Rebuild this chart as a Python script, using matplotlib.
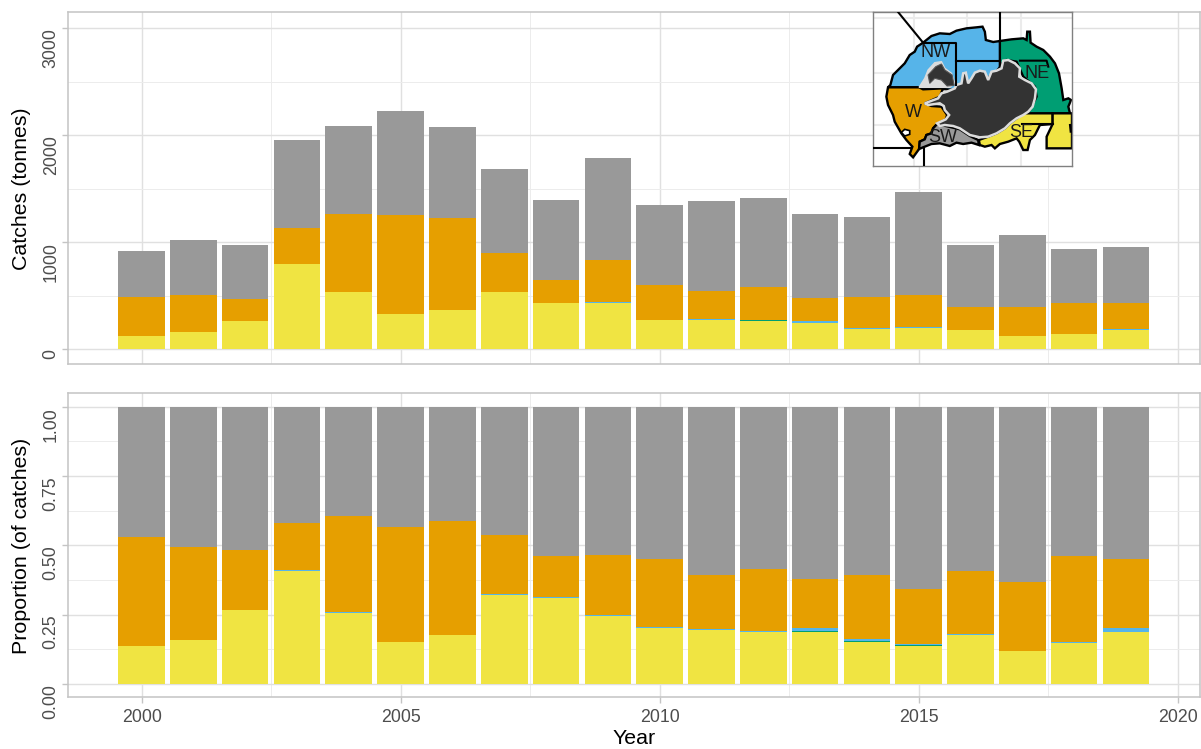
# Import required libraries
import matplotlib.pyplot as plt
from matplotlib.patches import Polygon
import numpy as np

plt.rcParams['font.family'] = ['Liberation Sans', 'DejaVu Sans']

# Catch data per region
years = list(range(2000, 2020))
se_catch = [121, 159, 262, 794, 533, 327, 364, 533, 430, 430, 271, 271, 262, 243, 187, 196, 178, 121, 140, 178]
ne_catch = [0, 0, 0, 0, 0, 0, 0, 0, 0, 0, 0, 2, 6, 2, 2, 3, 0, 0, 0, 0]
nw_catch = [0, 2, 0, 2, 2, 0, 0, 3, 3, 6, 3, 3, 2, 14, 8, 4, 3, 1, 3, 7]
w_catch = [365, 344, 205, 335, 727, 925, 860, 361, 212, 396, 324, 266, 309, 218, 289, 302, 212, 271, 287, 245]
sw_catch = [430, 514, 505, 822, 822, 972, 851, 785, 748, 953, 748, 841, 832, 785, 748, 962, 579, 672, 505, 523]

# Proportions per region
se_prop = [.137, .159, .267, .408, .256, .152, .177, .321, .310, .245, .202, .195, .188, .188, .152, .137, .177, .119, .148, .188]
ne_prop = [0, 0, 0, 0, 0, 0, 0, 0, 0, 0, 0, .001, .001, .002, .003, .003, 0, 0, 0, 0]
nw_prop = [0, .001, 0, .002, .002, 0, 0, .002, .003, .003, .003, .003, .003, .013, .006, .004, .002, .001, .004, .013]
w_prop = [.393, .335, .217, .171, .348, .415, .411, .215, .149, .218, .246, .194, .223, .176, .232, .199, .229, .248, .310, .250]
sw_prop = [.470, .505, .516, .419, .394, .433, .412, .462, .538, .534, .549, .607, .585, .621, .607, .657, .592, .632, .538, .549]

# Inset map outlines
nw_area = [(85, 262), (92, 255), (100, 225), (120, 205), (135, 190), (150, 165), (165, 155), (172, 140), (190, 128),
           (215, 108), (240, 100), (270, 102), (290, 92), (320, 85), (350, 82), (368, 80), (375, 95), (378, 120),
           (400, 126), (420, 123), (430, 190), (400, 225), (320, 260), (290, 270), (178, 262)]
w_area = [(85, 262), (178, 262), (190, 268), (250, 265), (240, 290), (195, 310), (215, 318), (245, 320), (262, 345),
          (258, 358), (232, 372), (220, 385), (215, 400), (200, 405), (195, 418), (180, 425), (178, 447), (160, 472),
          (150, 462), (158, 440), (140, 420), (125, 400), (105, 365), (100, 345), (85, 315), (80, 290)]
sw_area = [(232, 372), (258, 378), (300, 388), (330, 408), (355, 420), (357, 435), (335, 428), (310, 432), (290, 428),
           (270, 438), (240, 430), (215, 432), (190, 442), (178, 447), (180, 425), (195, 418), (200, 405), (215, 400),
           (220, 385)]
se_area = [(357, 420), (360, 435), (375, 440), (395, 435), (405, 445), (420, 432), (445, 425), (470, 415), (478, 425),
           (490, 450), (503, 450), (510, 420), (525, 405), (540, 375), (578, 372), (578, 340), (490, 340), (470, 355),
           (450, 370), (435, 385), (410, 400), (385, 410)]
e_area = [(578, 340), (636, 340), (636, 445), (560, 445), (560, 410), (578, 372)]
ne_area = [(420, 123), (455, 118), (490, 115), (500, 120), (502, 95), (510, 95), (512, 128), (530, 140), (550, 150),
           (570, 170), (585, 190), (597, 220), (605, 265), (610, 300), (625, 295), (633, 300), (625, 320), (630, 340),
           (490, 342), (510, 330), (530, 290), (525, 260), (490, 230), (470, 185), (440, 180), (420, 195)]
main_lake = [(252, 318), (240, 310), (205, 315), (195, 310), (235, 295), (245, 280), (262, 275), (285, 265), (290, 255),
             (305, 250), (310, 220), (318, 218), (325, 250), (335, 235), (345, 218), (360, 212), (375, 215), (385, 240),
             (395, 215), (410, 212), (425, 205), (430, 182), (445, 180), (465, 190), (480, 205), (478, 230), (495, 240),
             (515, 250), (528, 268), (525, 295), (518, 320), (505, 335), (490, 345), (470, 355), (450, 370), (435, 385),
             (410, 400), (385, 410), (360, 412), (330, 405), (300, 385), (280, 378), (255, 375), (240, 378), (232, 370),
             (258, 358), (268, 345), (255, 330)]
nw_lake_edge = [(178, 262), (195, 235), (205, 210), (225, 188), (245, 185), (255, 205), (275, 220), (285, 250), (270, 262),
                (250, 262)]
nw_lake_dark = [(228, 200), (245, 192), (255, 210), (277, 225), (283, 256), (262, 258), (245, 240), (225, 235), (210, 250),
                (205, 225)]
island = [(125, 397), (135, 388), (150, 392), (150, 403), (135, 408)]
map_lines = [[(115, 36), (190, 128)], [(190, 128), (290, 128), (290, 255)], [(290, 182), (420, 182)],
             [(420, 36), (420, 123)], [(480, 182), (560, 182), (565, 200)], [(40, 444), (155, 444)],
             [(193, 444), (193, 498)], [(486, 372), (578, 372)], [(630, 375), (632, 395)]]
map_labels = [('NW', 227, 157), ('NE', 530, 222), ('W', 160, 338), ('SW', 250, 412), ('SE', 485, 397)]
map_grid_x = [163, 323, 482]
map_grid_y = [55, 218, 375]

# Colours for each region
colors = {'SE': '#F0E442', 'NE': '#009E73', 'NW': '#56B4E9', 'W': '#E69F00', 'SW': '#999999'}

W, H = 1201, 749


# Function to turn a pixel box into figure coordinates
def px_box(left, top, right, bottom):
    return [left / W, 1 - bottom / H, (right - left) / W, (bottom - top) / H]


# Function to draw one stacked panel
def stacked(ax, series):
    base = np.zeros(len(years))
    for name, vals in series:
        ax.bar(years, vals, width=0.9, bottom=base, color=colors[name], linewidth=0, zorder=3)
        base = base + np.array(vals)
    ax.set_xlim(1998.58, 2020.43)
    ax.set_xticks([2000, 2005, 2010, 2015, 2020])
    ax.set_xticks([2002.5, 2007.5, 2012.5, 2017.5], minor=True)
    ax.grid(True, which='major', color='#e0e0e0', linewidth=1.0, zorder=0)
    ax.grid(True, which='minor', color='#ececec', linewidth=0.7, zorder=0)
    ax.set_axisbelow(True)
    for s in ax.spines.values():
        s.set_color('#c4c4c4')
        s.set_linewidth(1.1)
    ax.tick_params(axis='both', which='major', color='#c4c4c4', labelcolor='#4d4d4d', labelsize=12.8, length=4.5, width=1)
    ax.tick_params(axis='x', which='major', pad=4.5)
    ax.tick_params(axis='y', which='major', pad=1.5)
    ax.tick_params(axis='both', which='minor', length=0)
    # The y labels hang below their tick in the reference
    plt.setp(ax.get_yticklabels(), rotation=90, va='top')


fig = plt.figure(figsize=(W / 100, H / 100), dpi=100)

# Catches panel
ax1 = fig.add_axes(px_box(68, 12, 1200, 364))
stacked(ax1, [('SE', se_catch), ('NE', ne_catch), ('NW', nw_catch), ('W', w_catch), ('SW', sw_catch)])
ax1.set_ylim(-140, 3150)
ax1.set_yticks([0, 1000, 2000, 3000])
ax1.set_yticks([500, 1500, 2500], minor=True)
ax1.tick_params(axis='x', which='major', bottom=False, labelbottom=False)

# Proportion panel
ax2 = fig.add_axes(px_box(68, 393, 1200, 697))
stacked(ax2, [('SE', se_prop), ('NE', ne_prop), ('NW', nw_prop), ('W', w_prop), ('SW', sw_prop)])
ax2.set_ylim(-0.047, 1.05)
ax2.set_yticks([0, 0.25, 0.5, 0.75, 1.0])
ax2.set_yticklabels(['0.00', '0.25', '0.50', '0.75', '1.00'], rotation=90, va='top')
ax2.set_yticks([0.125, 0.375, 0.625, 0.875], minor=True)

# Axis titles
fig.text(22 / W, 1 - 189 / H, 'Catches (tonnes)', rotation=90, ha='center', va='center', fontsize=15.4)
fig.text(22 / W, 1 - 546 / H, 'Proportion (of catches)', rotation=90, ha='center', va='center', fontsize=15.4)
fig.text(634 / W, 1 - 739 / H, 'Year', ha='center', va='center', fontsize=15.4)

# Inset map, its units are the crop pixels of the map box
inset = fig.add_axes(px_box(873, 12, 1072, 166), zorder=10)
inset.set_xlim(40, 636)
inset.set_ylim(498, 36)
inset.set_xticks([])
inset.set_yticks([])
for s in inset.spines.values():
    s.set_color('#808080')
    s.set_linewidth(1.0)
for gx in map_grid_x:
    inset.axvline(gx, color='#ebebeb', linewidth=1.5, zorder=0)
for gy in map_grid_y:
    inset.axhline(gy, color='#ebebeb', linewidth=1.5, zorder=0)

for pts, c in [(nw_area, colors['NW']), (ne_area, colors['NE']), (w_area, colors['W']), (sw_area, colors['SW']),
               (se_area, colors['SE']), (e_area, colors['SE'])]:
    inset.add_patch(Polygon(pts, closed=True, facecolor=c, edgecolor='black', linewidth=1.7, zorder=2))
inset.add_patch(Polygon(main_lake, closed=True, facecolor='#333333', edgecolor='#dcdcdc', linewidth=1.8, zorder=3))
inset.add_patch(Polygon(nw_lake_edge, closed=True, facecolor='#dcdcdc', edgecolor='#dcdcdc', linewidth=1.0, zorder=3))
inset.add_patch(Polygon(nw_lake_dark, closed=True, facecolor='#333333', edgecolor='#555555', linewidth=0.8, zorder=3))
inset.add_patch(Polygon(island, closed=True, facecolor='white', edgecolor='black', linewidth=1.2, zorder=3))
for line in map_lines:
    xs, ys = zip(*line)
    inset.plot(xs, ys, color='black', linewidth=1.5, zorder=4)
for lab, lx, ly in map_labels:
    inset.text(lx, ly, lab, ha='center', va='center', fontsize=13, color='#1a1a1a', zorder=5)

fig.savefig('out.png', dpi=100)
